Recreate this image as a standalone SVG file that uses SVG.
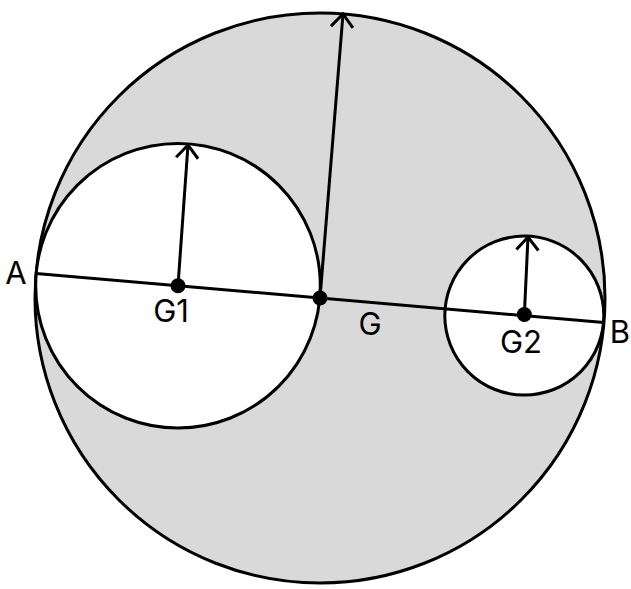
<svg xmlns="http://www.w3.org/2000/svg" width="631" height="589" viewBox="0 0 631 589">
<style>
.c{stroke:#000;stroke-width:3}
.l{stroke:#000;stroke-width:3;fill:none}
.a{stroke:#000;stroke-width:3;fill:none;marker-end:url(#arr)}
.d{fill:#000}
text{font-family:Inter,"Liberation Sans",Arial,sans-serif;font-size:31px;fill:#000;text-anchor:middle}
</style>
<defs>
<marker id="arr" markerUnits="userSpaceOnUse" markerWidth="30" markerHeight="30" refX="0" refY="0" orient="auto" overflow="visible">
<path d="M-13,-11 L0,0 L-13,11" fill="none" stroke="#000" stroke-width="3"/>
</marker>
</defs>
<g id="outer"><circle class="c" cx="320" cy="298" r="285" fill="#d9d9d9"/></g>
<g id="circle1"><circle class="c" cx="178" cy="285.7" r="142.3" fill="#fff"/></g>
<g id="circle2"><circle class="c" cx="524.3" cy="315.6" r="79.5" fill="#fff"/></g>
<g id="connectors">
<line class="l" x1="36" y1="273.5" x2="604" y2="322.5"/>
<line class="a" x1="178" y1="285.7" x2="188" y2="145"/>
<line class="a" x1="320" y1="298" x2="343" y2="14"/>
<line class="a" x1="524.3" y1="315.6" x2="528" y2="237"/>
</g>
<g id="G1"><circle class="d" cx="178" cy="285.7" r="7.5"/><text x="171" y="322">G1</text></g>
<g id="G"><circle class="d" cx="320" cy="298" r="7.5"/><text x="370" y="335">G</text></g>
<g id="G2"><circle class="d" cx="524.3" cy="314.5" r="7.5"/><text x="521" y="353">G2</text></g>
<g id="A"><text x="16" y="284">A</text></g>
<g id="B"><text x="620" y="343">B</text></g>
</svg>
